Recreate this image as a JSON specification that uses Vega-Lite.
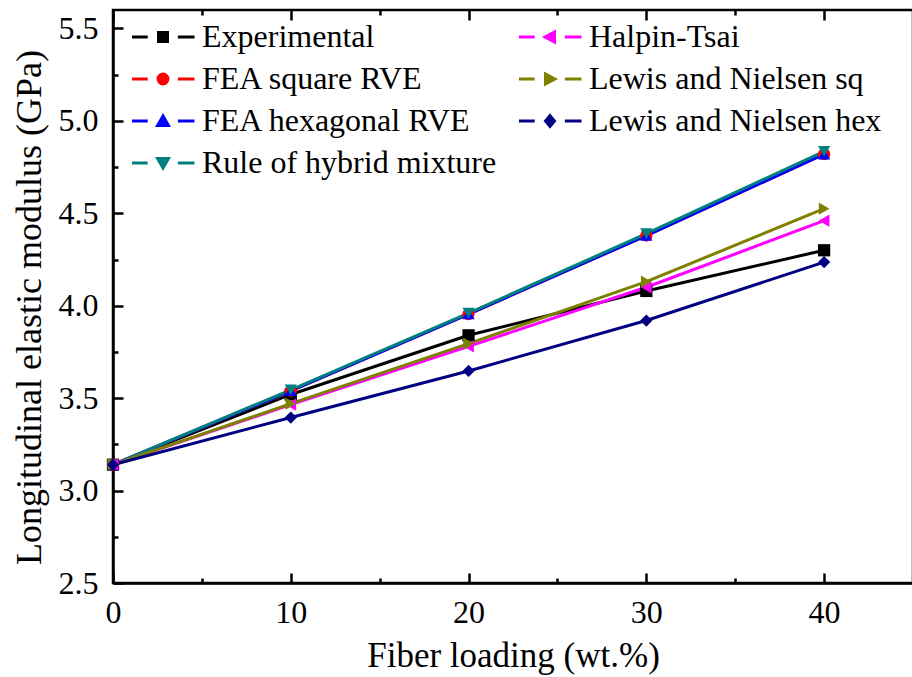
{
  "$schema": "https://vega.github.io/schema/vega-lite/v6.json",
  "width": 800,
  "height": 573,
  "autosize": "none",
  "padding": {"left": 113, "top": 10, "right": 0, "bottom": 94},
  "background": "white",
  "view": {"stroke": "black", "strokeWidth": 2.5},
  "config": {
    "font": "Liberation Serif",
    "axis": {
      "grid": false,
      "labelFlush": false,
      "domainColor": "black",
      "domainWidth": 2.5,
      "tickColor": "black",
      "tickWidth": 2.5,
      "labelFont": "Liberation Serif",
      "labelFontSize": 32,
      "labelColor": "black",
      "titleFont": "Liberation Serif",
      "titleFontSize": 35,
      "titleFontWeight": "normal",
      "titleColor": "black"
    }
  },
  "data": {
    "values": [
      {"series": "Experimental", "x": 0, "y": 3.14},
      {"series": "Experimental", "x": 10, "y": 3.52},
      {"series": "Experimental", "x": 20, "y": 3.84},
      {"series": "Experimental", "x": 30, "y": 4.08},
      {"series": "Experimental", "x": 40, "y": 4.30},
      {"series": "FEA square RVE", "x": 0, "y": 3.14},
      {"series": "FEA square RVE", "x": 10, "y": 3.54},
      {"series": "FEA square RVE", "x": 20, "y": 3.955},
      {"series": "FEA square RVE", "x": 30, "y": 4.38},
      {"series": "FEA square RVE", "x": 40, "y": 4.82},
      {"series": "FEA hexagonal RVE", "x": 0, "y": 3.14},
      {"series": "FEA hexagonal RVE", "x": 10, "y": 3.54},
      {"series": "FEA hexagonal RVE", "x": 20, "y": 3.955},
      {"series": "FEA hexagonal RVE", "x": 30, "y": 4.38},
      {"series": "FEA hexagonal RVE", "x": 40, "y": 4.82},
      {"series": "Rule of hybrid mixture", "x": 0, "y": 3.14},
      {"series": "Rule of hybrid mixture", "x": 10, "y": 3.545},
      {"series": "Rule of hybrid mixture", "x": 20, "y": 3.96},
      {"series": "Rule of hybrid mixture", "x": 30, "y": 4.39},
      {"series": "Rule of hybrid mixture", "x": 40, "y": 4.835},
      {"series": "Halpin-Tsai", "x": 0, "y": 3.14},
      {"series": "Halpin-Tsai", "x": 10, "y": 3.465},
      {"series": "Halpin-Tsai", "x": 20, "y": 3.78},
      {"series": "Halpin-Tsai", "x": 30, "y": 4.10},
      {"series": "Halpin-Tsai", "x": 40, "y": 4.46},
      {"series": "Lewis and Nielsen sq", "x": 0, "y": 3.14},
      {"series": "Lewis and Nielsen sq", "x": 10, "y": 3.47},
      {"series": "Lewis and Nielsen sq", "x": 20, "y": 3.795},
      {"series": "Lewis and Nielsen sq", "x": 30, "y": 4.13},
      {"series": "Lewis and Nielsen sq", "x": 40, "y": 4.525},
      {"series": "Lewis and Nielsen hex", "x": 0, "y": 3.14},
      {"series": "Lewis and Nielsen hex", "x": 10, "y": 3.395},
      {"series": "Lewis and Nielsen hex", "x": 20, "y": 3.647},
      {"series": "Lewis and Nielsen hex", "x": 30, "y": 3.92},
      {"series": "Lewis and Nielsen hex", "x": 40, "y": 4.236}
    ]
  },
  "resolve": {
    "scale": {"color": "independent", "shape": "independent", "stroke": "independent"},
    "axis": {"x": "independent", "y": "independent"},
    "legend": {"color": "independent", "shape": "independent", "stroke": "independent"}
  },
  "layer": [
    {
      "mark": {"type": "line", "strokeWidth": 3},
      "encoding": {
        "x": {
          "field": "x", "type": "quantitative",
          "scale": {"domain": [0, 45], "nice": false, "zero": false},
          "axis": {
            "orient": "bottom",
            "title": "Fiber loading (wt.%)",
            "values": [0, 5, 10, 15, 20, 25, 30, 35, 40, 45],
            "labelExpr": "datum.value % 10 == 0 ? datum.label : ''",
            "tickSize": {"condition": {"test": "datum.value % 10 != 0", "value": -5}, "value": -10},
            "labelPadding": 24,
            "titlePadding": 10
          }
        },
        "y": {
          "field": "y", "type": "quantitative",
          "scale": {"domain": [2.5, 5.6], "nice": false, "zero": false},
          "axis": {
            "orient": "left",
            "title": "Longitudinal elastic modulus (GPa)",
            "titleFontSize": 36,
            "titleY": 297,
            "values": [2.5, 2.75, 3, 3.25, 3.5, 3.75, 4, 4.25, 4.5, 4.75, 5, 5.25, 5.5],
            "labelExpr": "(datum.value * 4) % 2 == 0 ? format(datum.value, '.1f') : ''",
            "tickSize": {"condition": {"test": "(datum.value * 4) % 2 != 0", "value": -5}, "value": -10},
            "labelPadding": 25,
            "titlePadding": 10
          }
        },
        "color": {
          "field": "series", "type": "nominal", "legend": null,
          "scale": {
            "domain": ["Experimental", "FEA square RVE", "FEA hexagonal RVE", "Rule of hybrid mixture", "Halpin-Tsai", "Lewis and Nielsen sq", "Lewis and Nielsen hex"],
            "range": ["#000000", "#FF0000", "#0000FF", "#008080", "#FF00FF", "#808000", "#000080"]
          }
        }
      }
    },
    {
      "mark": {"type": "point", "filled": true, "size": 150, "opacity": 1},
      "encoding": {
        "x": {"field": "x", "type": "quantitative", "scale": {"domain": [0, 45], "nice": false, "zero": false},
          "axis": {"orient": "top", "labels": false, "title": null, "domain": false,
            "values": [0, 5, 10, 15, 20, 25, 30, 35, 40, 45],
            "tickSize": {"condition": {"test": "datum.value % 10 != 0", "value": -5}, "value": -10}}},
        "y": {"field": "y", "type": "quantitative", "scale": {"domain": [2.5, 5.6], "nice": false, "zero": false}, "axis": null},
        "color": {
          "field": "series", "type": "nominal", "legend": null,
          "scale": {
            "domain": ["Experimental", "FEA square RVE", "FEA hexagonal RVE", "Rule of hybrid mixture", "Halpin-Tsai", "Lewis and Nielsen sq", "Lewis and Nielsen hex"],
            "range": ["#000000", "#FF0000", "#0000FF", "#008080", "#FF00FF", "#808000", "#000080"]
          }
        },
        "shape": {
          "field": "series", "type": "nominal", "legend": null,
          "scale": {
            "domain": ["Experimental", "FEA square RVE", "FEA hexagonal RVE", "Rule of hybrid mixture", "Halpin-Tsai", "Lewis and Nielsen sq", "Lewis and Nielsen hex"],
            "range": ["square", "circle", "triangle-up", "triangle-down", "triangle-left", "triangle-right", "diamond"]
          }
        }
      }
    },
    {
      "transform": [{"filter": "datum.x < -100"}],
      "mark": {"type": "point", "filled": true, "size": 81, "strokeWidth": 3, "opacity": 1},
      "encoding": {
        "x": {"field": "x", "type": "quantitative", "scale": {"domain": [0, 45], "nice": false, "zero": false}, "axis": null},
        "y": {"field": "y", "type": "quantitative", "scale": {"domain": [2.5, 5.6], "nice": false, "zero": false}, "axis": null},
        "color": {
          "field": "series", "type": "nominal",
          "scale": {
            "domain": ["Experimental", "FEA square RVE", "FEA hexagonal RVE", "Rule of hybrid mixture", "Halpin-Tsai", "Lewis and Nielsen sq", "Lewis and Nielsen hex"],
            "range": ["#000000", "#FF0000", "#0000FF", "#008080", "#FF00FF", "#808000", "#000080"]
          },
          "legend": {
            "orient": "none", "legendX": 34, "legendY": 11,
            "title": null, "columns": 2, "columnPadding": 15, "rowPadding": 10,
            "labelFont": "Liberation Serif", "labelFontSize": 32, "labelColor": "black", "labelLimit": 0,
            "labelOffset": 23, "symbolSize": 81, "symbolStrokeWidth": 3, "symbolOpacity": 1
          }
        },
        "stroke": {
          "field": "series", "type": "nominal",
          "scale": {
            "domain": ["Experimental", "FEA square RVE", "FEA hexagonal RVE", "Rule of hybrid mixture", "Halpin-Tsai", "Lewis and Nielsen sq", "Lewis and Nielsen hex"],
            "range": ["#000000", "#FF0000", "#0000FF", "#008080", "#FF00FF", "#808000", "#000080"]
          }
        },
        "shape": {
          "field": "series", "type": "nominal",
          "scale": {
            "domain": ["Experimental", "FEA square RVE", "FEA hexagonal RVE", "Rule of hybrid mixture", "Halpin-Tsai", "Lewis and Nielsen sq", "Lewis and Nielsen hex"],
            "range": [
              "M-6.9,0H-3.4M3.3,0H7M-1,-1H1V1H-1Z",
              "M-6.9,0H-3.4M3.3,0H7M-1.1,0A1.1,1.1,0,1,0,1.1,0A1.1,1.1,0,1,0,-1.1,0Z",
              "M-6.9,0H-3.4M3.3,0H7M0,-1.1L1.2,1H-1.2Z",
              "M-6.9,0H-3.4M3.3,0H7M0,1.1L1.2,-1H-1.2Z",
              "M-6.9,0H-3.4M3.3,0H7M-1.1,0L1,-1.1V1.1Z",
              "M-6.9,0H-3.4M3.3,0H7M1.1,0L-1,-1.1V1.1Z",
              "M-6.9,0H-3.4M3.3,0H7M0,-1.2L1,0L0,1.2L-1,0Z"
            ]
          }
        }
      }
    }
  ]
}
